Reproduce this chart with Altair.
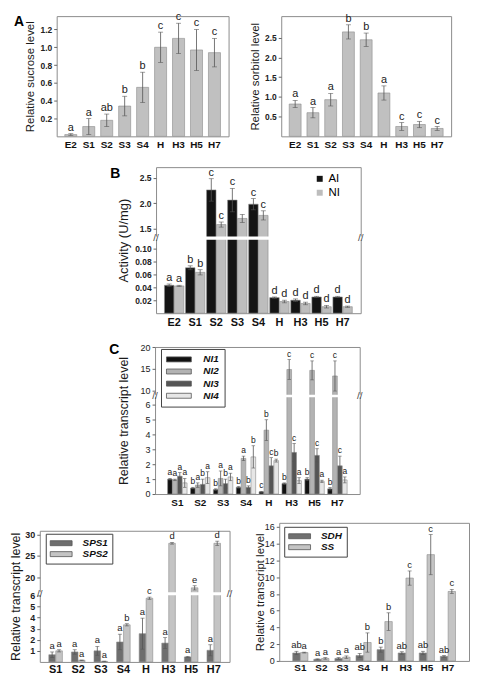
import altair as alt
import pandas as pd

FONT = "Liberation Sans"
FRAME = "#8c8c8c"
ERR = "#555555"
TXT = "#222222"

# ---------------- data ----------------
stages_ab = ["E2", "S1", "S2", "S3", "S4", "H", "H3", "H5", "H7"]

sucrose = [0.02, 0.11, 0.18, 0.34, 0.55, 1.00, 1.10, 0.97, 0.94]
sucrose_err = [0.01, 0.09, 0.07, 0.11, 0.17, 0.17, 0.17, 0.23, 0.16]
sucrose_let = ["a", "a", "ab", "b", "b", "c", "c", "c", "c"]

sorbitol = [0.82, 0.60, 0.93, 2.65, 2.45, 1.10, 0.25, 0.30, 0.20]
sorbitol_err = [0.09, 0.13, 0.16, 0.18, 0.17, 0.18, 0.10, 0.08, 0.05]
sorbitol_let = ["a", "a", "a", "b", "b", "a", "c", "c", "c"]

ai = [0.043, 0.070, 2.26, 2.06, 1.98, 0.024, 0.020, 0.025, 0.025]
ai_err = [0.002, 0.003, 0.22, 0.23, 0.11, 0.001, 0.002, 0.001, 0.001]
ai_let = ["a", "b", "c", "c", "c", "d", "d", "d", "d"]
ni = [0.042, 0.063, 1.58, 1.70, 1.76, 0.018, 0.015, 0.010, 0.010]
ni_err = [0.001, 0.004, 0.05, 0.08, 0.09, 0.002, 0.002, 0.002, 0.001]
ni_let = ["a", "b", "c", "", "c", "d", "d", "d", "d"]

stages_c = ["S1", "S2", "S3", "S4", "H", "H3", "H5", "H7"]

ni1 = [1.0, 0.4, 0.3, 0.45, 0.15, 0.7, 1.0, 0.35]
ni1_err = [0.05, 0.05, 0.05, 0.05, 0.03, 0.05, 0.10, 0.08]
ni1_let = ["a", "b", "b", "b", "c", "b", "b", "b"]
ni2 = [0.95, 0.6, 1.05, 2.4, 4.3, 14.8, 14.6, 13.3]
ni2_err = [0.05, 0.15, 0.5, 0.15, 0.7, 2.3, 2.2, 3.5]
ni2_let = ["a", "a", "a", "a", "b", "c", "c", "c"]
ni3 = [1.2, 0.65, 0.7, 0.45, 1.9, 2.8, 2.6, 1.9]
ni3_err = [0.25, 0.35, 0.3, 0.1, 0.55, 0.6, 0.45, 0.65]
ni3_let = ["a", "b", "b", "b", "c", "c", "c", "c"]
ni4 = [0.75, 1.1, 1.15, 2.5, 2.25, 0.9, 0.85, 0.95]
ni4_err = [0.3, 0.4, 0.25, 0.75, 0.1, 0.2, 0.08, 0.2]
ni4_let = ["a", "a", "a", "b", "b", "a", "a", "a"]

sps1 = [0.65, 0.9, 1.0, 1.8, 2.55, 1.7, 0.45, 1.05]
sps1_err = [0.25, 0.2, 0.4, 0.7, 1.4, 0.5, 0.05, 0.5]
sps1_let = ["a", "a", "a", "a", "a", "a", "a", "a"]
sps2 = [1.0, 0.15, 0.05, 3.35, 5.75, 28.0, 17.5, 28.0]
sps2_err = [0.1, 0.02, 0.02, 0.1, 0.1, 0.2, 0.5, 0.5]
sps2_let = ["a", "a", "a", "b", "c", "d", "e", "d"]

sdh = [0.95, 0.2, 0.3, 0.65, 1.35, 0.95, 0.95, 0.55]
sdh_err = [0.2, 0.05, 0.1, 0.25, 0.3, 0.15, 0.2, 0.1]
sdh_let = ["ab", "a", "a", "ab", "b", "ab", "ab", "ab"]
ss = [1.0, 0.3, 0.45, 2.2, 4.7, 9.9, 12.7, 8.3]
ss_err = [0.05, 0.1, 0.15, 1.15, 1.05, 0.85, 2.4, 0.25]
ss_let = ["a", "a", "a", "b", "b", "c", "c", "c"]


# ---------------- helpers ----------------
def mapper(brk):
    def fexpr(f):
        if brk is None:
            return f"datum.{f}"
        return (f"(datum.{f} <= {brk['thr']} ? datum.{f} * {brk['a']} : "
                f"{brk['o']} + (datum.{f} - {brk['u0']}) * {brk['b']})")

    def fpy(v):
        if brk is None:
            return v
        if v <= brk["thr"]:
            return v * brk["a"]
        return brk["o"] + (v - brk["u0"]) * brk["b"]
    return fexpr, fpy


def spacer(w, h=1):
    return alt.Chart(pd.DataFrame({"k": [0]})).mark_point(opacity=0, size=1).properties(
        width=w, height=h, view=alt.ViewBackground(strokeOpacity=0))


def panel(stages, series, vals, errs, lets, colors, *, w, h, ydom, title,
          ticks_lo, fmt_lo, ticks_hi=None, fmt_hi=None, brk=None, gap=None,
          pad_inner=0.3, pad_outer=0.4, off_pad=0.05,
          ylab_bold=True, ylab_size=9, ylab_extent=18, title_pad=2, title_size=12,
          xlab_size=10, xlab_pad=3, let_size=10, cap=5, legend=None,
          plabel=None, plabel_x=-45, plabel_y=0, top_ext=0):
    rows = []
    for s, vv, ee, ll in zip(series, vals, errs, lets):
        for st, v, e, l in zip(stages, vv, ee, ll):
            rows.append({"stage": st, "series": s, "v": v, "e": e, "l": l})
    df = pd.DataFrame(rows)
    fexpr, fpy = mapper(brk)

    base = (alt.Chart(df)
            .transform_calculate(lo="max(datum.v - datum.e, 0)", hi="datum.v + datum.e")
            .transform_calculate(dv=fexpr("v"), dlo=fexpr("lo"), dhi=fexpr("hi")))

    if brk is None:
        tick_vals = list(ticks_lo)
    else:
        tick_vals = [fpy(t) for t in ticks_lo] + [fpy(t) for t in ticks_hi]
    axis_kw = dict(title=title, titlePadding=title_pad, titleFontSize=title_size,
                   titleFontWeight="normal", titleColor="#1a1a1a",
                   labelFontSize=ylab_size, labelFontWeight="bold" if ylab_bold else "normal",
                   labelColor="#222222", tickSize=3, tickColor="#666666", domain=False,
                   grid=False, minExtent=ylab_extent, maxExtent=ylab_extent, labelPadding=2,
                   labelOverlap=False, values=tick_vals, tickCount=len(tick_vals) + 2)
    if brk is None:
        axis_kw["format"] = fmt_lo
    else:
        mid = (gap[0] + gap[1]) / 2
        axis_kw["labelExpr"] = (f"datum.value < {mid} ? format(datum.value / {brk['a']}, '{fmt_lo}')"
                                f" : format({brk['u0']} + (datum.value - {brk['o']}) / {brk['b']}, '{fmt_hi}')")
    yaxis = alt.Axis(**axis_kw)
    yscale = alt.Scale(domain=ydom, nice=False)

    def Y(f):
        return alt.Y(f"{f}:Q", scale=yscale, axis=yaxis)

    X = alt.X("stage:N", sort=stages,
              scale=alt.Scale(paddingInner=pad_inner, paddingOuter=pad_outer),
              axis=alt.Axis(title=None, labelAngle=0, ticks=False, domain=False,
                            labelFontSize=xlab_size, labelFontWeight="bold",
                            labelColor="#111111", labelPadding=xlab_pad))
    XO = alt.XOffset("series:N", sort=series,
                     scale=alt.Scale(paddingInner=off_pad, paddingOuter=0))
    C = alt.Color("series:N", sort=series,
                  scale=alt.Scale(domain=series, range=colors), legend=legend)

    layers = []
    layers.append(base.mark_bar(stroke="#8a8a8a", strokeWidth=0.6).encode(
        x=X, xOffset=XO, y=Y("dv"), color=C))
    one = alt.Chart(pd.DataFrame({"k": [0]}))
    if gap is not None:
        layers.append(one.mark_rect(color="white").encode(
            x=alt.value(-4), x2=alt.value(w + 4), y=alt.datum(gap[0]), y2=alt.datum(gap[1])))
    layers.append(base.mark_rule(color=ERR, strokeWidth=0.8).encode(
        x=X, xOffset=XO, y=Y("dlo"), y2=alt.Y2("dhi")))
    layers.append(base.mark_tick(color=ERR, thickness=0.8, size=cap).encode(
        x=X, xOffset=XO, y=Y("dlo")))
    layers.append(base.mark_tick(color=ERR, thickness=0.8, size=cap).encode(
        x=X, xOffset=XO, y=Y("dhi")))
    layers.append(base.mark_text(baseline="bottom", dy=-1, fontSize=let_size,
                                 color=TXT, font=FONT).encode(
        x=X, xOffset=XO, y=Y("dhi"), text="l:N"))
    if gap is not None:
        mid = (gap[0] + gap[1]) / 2
        for xp in (0, w):
            layers.append(one.mark_text(text="//", fontSize=10, color="#444444",
                                        font=FONT).encode(x=alt.value(xp), y=alt.datum(mid)))
    if plabel is not None:
        layers.append(one.mark_text(text=plabel, fontSize=14, fontWeight="bold", align="left",
                                    baseline="top", color="#000000", font=FONT).encode(
            x=alt.value(plabel_x), y=alt.value(plabel_y)))
    if top_ext > 0:
        layers.append(one.mark_rule(strokeOpacity=0).encode(
            x=alt.value(0), y=alt.value(-top_ext), y2=alt.value(0)))
    return alt.layer(*layers).properties(width=w, height=h)


def box_legend(lx, ly, half_w, sym_off, lab_off, pad=5, row_pad=1.5):
    return alt.Legend(title=None, orient="none", legendX=lx, legendY=ly, padding=pad,
                      strokeColor="#444444", fillColor="white",
                      symbolType=f"M-{half_w},-0.5H{half_w}V0.5H-{half_w}Z", symbolSize=100,
                      symbolOffset=sym_off, labelOffset=lab_off,
                      symbolStrokeColor="#555555", symbolStrokeWidth=0.8, symbolOpacity=1,
                      labelFontSize=10, labelFontStyle="italic", labelFontWeight="bold",
                      labelColor="#111111", rowPadding=row_pad)


# ---------------- panels ----------------
A_left = panel(stages_ab, ["sucrose"], [sucrose], [sucrose_err], [sucrose_let], ["#c0c0c0"],
               w=173, h=121, ydom=[0, 1.35], title="Relative sucrose level",
               ticks_lo=[0.2, 0.4, 0.6, 0.8, 1.0, 1.2], fmt_lo=".1f",
               pad_inner=0.33, pad_outer=0.45, ylab_size=8.5, ylab_extent=20, title_pad=1,
               title_size=11.5, xlab_size=10, let_size=11, cap=5,
               plabel="A", plabel_x=-43, plabel_y=-1, top_ext=3.5)

A_right = panel(stages_ab, ["sorbitol"], [sorbitol], [sorbitol_err], [sorbitol_let], ["#c0c0c0"],
                w=171, h=121, ydom=[0, 3.05], title="Relative sorbitol level",
                ticks_lo=[0.5, 1.0, 1.5, 2.0, 2.5], fmt_lo=".1f",
                pad_inner=0.33, pad_outer=0.45, ylab_size=8.5, ylab_extent=20, title_pad=1,
                title_size=11.5, xlab_size=10, let_size=11, cap=5, top_ext=3.5)

brk_b = {"thr": 0.5, "a": 653, "o": 77.4, "u0": 1.35, "b": 51.3}
B = panel(stages_ab, ["AI", "NI"], [ai, ni], [ai_err, ni_err], [ai_let, ni_let],
          ["#141414", "#bdbdbd"], w=206, h=147, ydom=[0, 147], title="Activity (U/mg)",
          ticks_lo=[0.02, 0.04, 0.06, 0.08, 0.10], fmt_lo=".2f",
          ticks_hi=[1.5, 2.0, 2.5], fmt_hi=".1f", brk=brk_b, gap=[74.0, 77.2],
          pad_inner=0.08, pad_outer=0.4, off_pad=0.05, ylab_size=8.5, ylab_extent=24,
          title_pad=2, title_size=13, xlab_size=11, let_size=11, cap=5,
          legend=alt.Legend(title=None, orient="none", legendX=159, legendY=6,
                            symbolType="square", symbolSize=36, symbolStrokeWidth=0,
                            labelFontSize=11.5, rowPadding=1, labelOffset=3),
          plabel="B", plabel_x=-46, plabel_y=0, top_ext=15.8)

brk_c = {"thr": 8, "a": 15.0, "o": 100.5, "u0": 9, "b": 4.35}
C = panel(stages_c, ["NI1", "NI2", "NI3", "NI4"], [ni1, ni2, ni3, ni4],
          [ni1_err, ni2_err, ni3_err, ni4_err], [ni1_let, ni2_let, ni3_let, ni4_let],
          ["#111111", "#b3b3b3", "#555555", "#e6e6e6"], w=206, h=148, ydom=[0, 148.5],
          title="Relative transcript level",
          ticks_lo=[0, 1, 2, 3, 4, 5, 6], fmt_lo=".0f", ticks_hi=[10, 15, 20], fmt_hi=".0f",
          brk=brk_c, gap=[97.8, 100.3], pad_inner=0.15, pad_outer=0.55, off_pad=0.05,
          ylab_bold=False, ylab_size=9, ylab_extent=16, title_pad=9, title_size=12.5,
          xlab_size=10, xlab_pad=4, let_size=8.5, cap=3.5,
          legend=box_legend(6, 2, 2.5, 7.5, 19, pad=5, row_pad=1.2),
          plabel="C", plabel_x=-46, plabel_y=-4, top_ext=18.4)

brk_s = {"thr": 10, "a": 11.15, "o": 70.3, "u0": 16.5, "b": 4.27}
SPS = panel(stages_c, ["SPS1", "SPS2"], [sps1, sps2], [sps1_err, sps2_err], [sps1_let, sps2_let],
            ["#6e6e6e", "#c4c4c4"], w=191, h=132, ydom=[0, 132],
            title="Relative transcript level",
            ticks_lo=[1, 2, 3, 4, 5, 6], fmt_lo=".0f", ticks_hi=[20, 25, 30], fmt_hi=".0f",
            brk=brk_s, gap=[67.2, 70.1], pad_inner=0.4, pad_outer=0.4, off_pad=0.05,
            ylab_size=9, ylab_extent=14, title_pad=3, title_size=12.5,
            xlab_size=11, xlab_pad=2, let_size=9.5, cap=4,
            legend=box_legend(6, 3, 2.2, 6, 16, pad=4, row_pad=0))

SDH = panel(stages_c, ["SDH", "SS"], [sdh, ss], [sdh_err, ss_err], [sdh_let, ss_let],
            ["#707070", "#c4c4c4"], w=191, h=139, ydom=[0, 16.5],
            title="Relative transcript level",
            ticks_lo=[0, 2, 4, 6, 8, 10, 12, 14, 16], fmt_lo="d",
            pad_inner=0.28, pad_outer=0.64, off_pad=0.05,
            ylab_bold=False, ylab_size=9, ylab_extent=13, title_pad=1, title_size=11.5,
            xlab_size=10, xlab_pad=2, let_size=9.5, cap=4,
            legend=box_legend(5, 4, 2.2, 6, 16, pad=4, row_pad=0), top_ext=12.6)


def resolved(c):
    return c.resolve_scale(color="independent", xOffset="independent").resolve_legend(
        color="independent")


def row(*charts):
    return resolved(alt.hconcat(*charts, spacing=0))


SPS_col = resolved(alt.vconcat(spacer(1, 6), SPS, spacing=0))

chart = (resolved(alt.vconcat(
    row(spacer(5), A_left, spacer(18.4), A_right),
    row(spacer(101.8), B),
    row(spacer(100.8), C),
    row(spacer(1), SPS_col, spacer(18.5), SDH),
    spacing=0))
    .properties(padding=0)
    .configure(font=FONT)
    .configure_view(stroke=FRAME, strokeWidth=1)
    .configure_axis(labelFont=FONT, titleFont=FONT)
    .configure_legend(labelFont=FONT)
)

chart.save("out.html", embed_options={"renderer": "svg", "actions": False})
